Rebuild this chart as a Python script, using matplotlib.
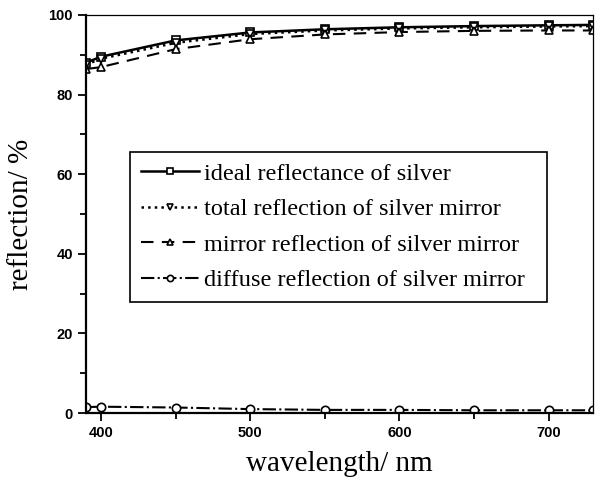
import numpy as np
import matplotlib.pyplot as plt
from matplotlib.ticker import MultipleLocator

wavelength = [390, 400, 450, 500, 550, 600, 650, 700, 730]
ideal = [88.0, 89.5, 93.6, 95.6, 96.4, 96.9, 97.2, 97.4, 97.5]
total = [87.5, 89.0, 93.0, 95.2, 96.1, 96.6, 96.9, 97.1, 97.2]
mirror = [86.4, 86.9, 91.4, 93.9, 95.1, 95.7, 96.0, 96.1, 96.1]
diffuse = [1.5, 1.6, 1.4, 1.0, 0.8, 0.8, 0.7, 0.7, 0.7]

labels = ['ideal reflectance of silver',
          'total reflection of silver mirror',
          'mirror reflection of silver mirror',
          'diffuse reflection of silver mirror']

fig = plt.figure(figsize=(5.97, 4.82), dpi=100)
ax = fig.add_axes([0.144, 0.143, 0.85, 0.826])

mk = dict(markerfacecolor='white', markeredgecolor='black', markersize=6,
          markeredgewidth=1.2, color='black')
ax.plot(wavelength, ideal, '-', marker='s', lw=1.8, label=labels[0], **mk)
ax.plot(wavelength, total, ':', marker='v', lw=1.8, label=labels[1], **mk)
ax.plot(wavelength, mirror, '--', marker='^', lw=1.5, dashes=(6, 4),
        label=labels[2], **mk)
ax.plot(wavelength, diffuse, '-.', marker='o', lw=1.5, label=labels[3], **mk)

ax.set_xlim(390, 730)
ax.set_ylim(0, 100)
ax.xaxis.set_major_locator(MultipleLocator(100))
ax.xaxis.set_minor_locator(MultipleLocator(50))
ax.yaxis.set_major_locator(MultipleLocator(20))
ax.yaxis.set_minor_locator(MultipleLocator(10))
ax.tick_params(which='both', direction='out', top=False, right=False,
               width=1.3, color='black')
ax.tick_params(which='major', length=6)
ax.tick_params(which='minor', length=4)
for lab in ax.get_xticklabels() + ax.get_yticklabels():
    lab.set_family('Liberation Sans')
    lab.set_fontweight('bold')
    lab.set_fontsize(10.5)

for s in ['left', 'bottom']:
    ax.spines[s].set_linewidth(1.6)
for s in ['top', 'right']:
    ax.spines[s].set_linewidth(0.9)

ax.set_xlabel('wavelength/ nm', family='Liberation Serif', fontsize=21, labelpad=8)
ax.set_ylabel('reflection/ %', family='Liberation Serif', fontsize=21, labelpad=10)

leg = ax.legend(loc='lower left', bbox_to_anchor=(0.087, 0.279, 0.822, 0.377),
                mode='expand', prop={'family': 'Liberation Serif', 'size': 17.5},
                handlelength=2.4, handletextpad=0.2, borderaxespad=0,
                labelspacing=0.55, fancybox=False, edgecolor='black',
                framealpha=1, borderpad=0.45, markerscale=0.75)
leg.get_frame().set_linewidth(1.2)

fig.savefig('out.png', dpi=100)
